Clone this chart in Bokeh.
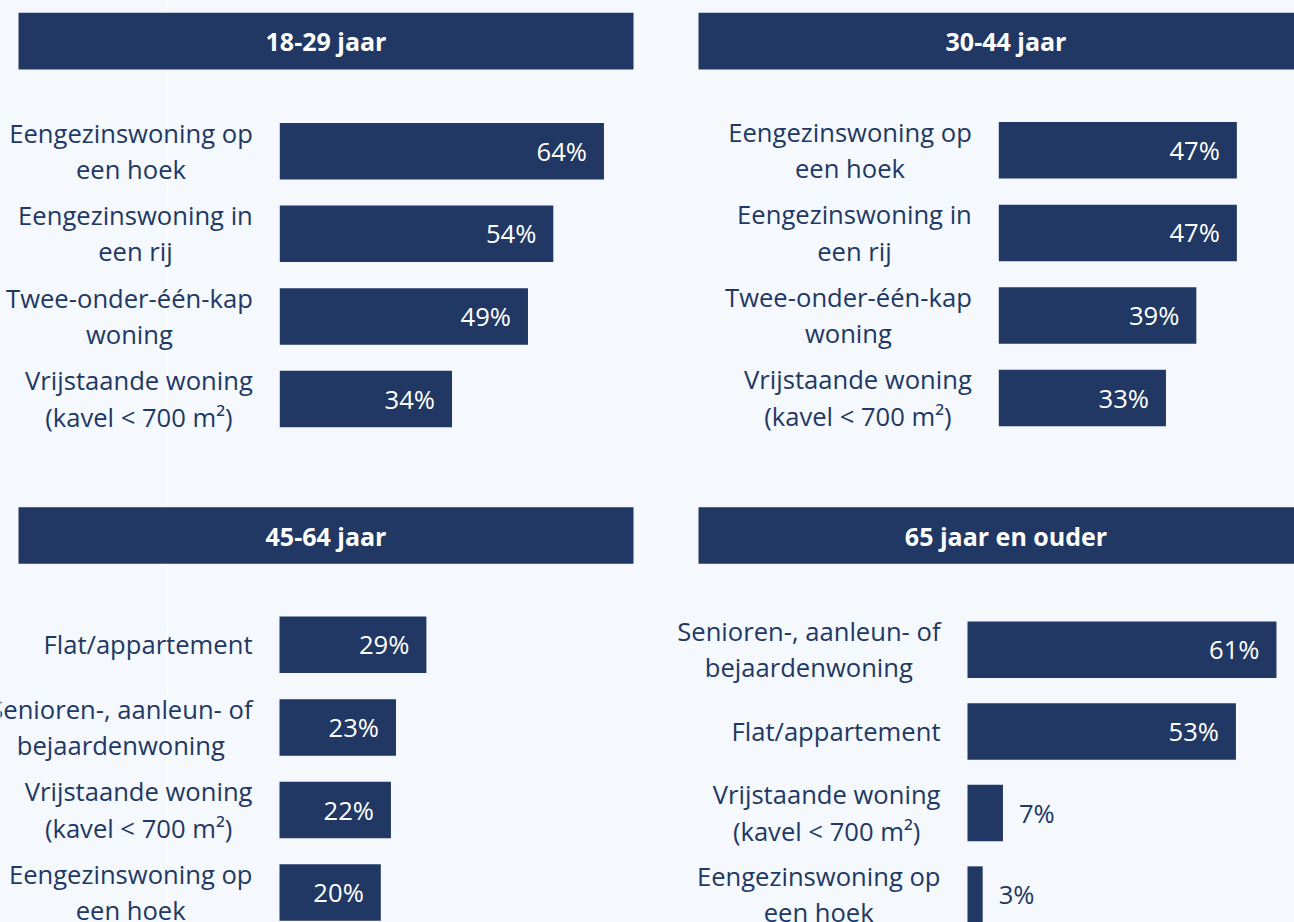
from bokeh.plotting import figure
from bokeh.models import Range1d, BoxAnnotation, Label, ColumnDataSource, GlobalInlineStyleSheet, Span
from bokeh.layouts import column, row
from bokeh.embed import file_html
from bokeh.resources import INLINE
from bokeh.core.properties import value

# ---------------- data ----------------
titles = ["18-29 jaar", "30-44 jaar", "45-64 jaar", "65 jaar en ouder"]

cats_18_29 = ["Eengezinswoning op\neen hoek", "Eengezinswoning in\neen rij",
              "Twee-onder-één-kap\nwoning", "Vrijstaande woning\n(kavel < 700 m²)"]
vals_18_29 = [64, 54, 49, 34]

cats_30_44 = ["Eengezinswoning op\neen hoek", "Eengezinswoning in\neen rij",
              "Twee-onder-één-kap\nwoning", "Vrijstaande woning\n(kavel < 700 m²)"]
vals_30_44 = [47, 47, 39, 33]

cats_45_64 = ["Flat/appartement", "Senioren-, aanleun- of\nbejaardenwoning",
              "Vrijstaande woning\n(kavel < 700 m²)", "Eengezinswoning op\neen hoek"]
vals_45_64 = [29, 23, 22, 20]

cats_65 = ["Senioren-, aanleun- of\nbejaardenwoning", "Flat/appartement",
           "Vrijstaande woning\n(kavel < 700 m²)", "Eengezinswoning op\neen hoek"]
vals_65 = [61, 53, 7, 3]

# ---------------- style / layout ----------------
BG = "#f5f8fc"
NAVY = "#213864"
FONT = "Open Sans"
FS = "25.6px"
K = 5.065  # px per percent

# page-pixel layout of each panel (layout only)
panels = [
    dict(title=titles[0], cats=cats_18_29, vals=vals_18_29, left=0, right=645, top=0, bottom=460,
         x0=279.3, y_first=150.7, step=82.6, hdr=(18, 633, 12.3, 69), seam=166.7),
    dict(title=titles[1], cats=cats_30_44, vals=vals_30_44, left=645, right=1294, top=0, bottom=460,
         x0=998.3, y_first=149.8, step=82.6, hdr=(698, 1313, 12.3, 69), seam=None),
    dict(title=titles[2], cats=cats_45_64, vals=vals_45_64, left=0, right=645, top=460, bottom=922,
         x0=279.0, y_first=644.3, step=82.6, hdr=(18, 633, 506.7, 563.3), seam=166.7),
    dict(title=titles[3], cats=cats_65, vals=vals_65, left=645, right=1294, top=460, bottom=922,
         x0=967.0, y_first=649.3, step=81.6, hdr=(698, 1313, 506.7, 563.3), seam=None),
]


def make_panel(d):
    x0 = d["x0"]
    xr = Range1d((d["left"] - x0) / K, (d["right"] - x0) / K)
    yr = Range1d(d["bottom"], d["top"])
    p = figure(width=d["right"] - d["left"], height=d["bottom"] - d["top"],
               x_range=xr, y_range=yr, output_backend="svg", toolbar_location=None,
               x_axis_location=None, y_axis_location=None, min_border=0,
               background_fill_color=BG, border_fill_color=BG, outline_line_color=None)
    p.grid.visible = False

    if d["seam"] is not None:
        p.add_layout(Span(location=(d["seam"] - x0) / K, dimension="height",
                          line_color="#fcfdff", line_width=1.5, level="underlay"))

    # header band
    hl, hr, ht, hb = d["hdr"]
    p.add_layout(BoxAnnotation(left=(hl - x0) / K, right=(hr - x0) / K, top=ht, bottom=hb,
                               fill_color=NAVY, fill_alpha=1.0, line_color=None))
    p.add_layout(Label(x=((hl + hr) / 2 - x0) / K, y=(ht + hb) / 2, text=d["title"],
                       text_align="center", text_baseline="middle", text_color="white",
                       text_font=FONT, text_font_size="25px", text_font_style="bold"))

    ys = [d["y_first"] + i * d["step"] for i in range(len(d["vals"]))]
    src = ColumnDataSource(dict(y=ys, v=d["vals"], cat=d["cats"]))
    p.hbar(y="y", left=0, right="v", height=56.5, source=src,
           fill_color=NAVY, line_color=None)

    # category labels (block right-anchored, lines centred)
    p.text(x=0, y="y", text="cat", source=src, x_offset=-27,
           anchor="center_right", text_align="center", text_baseline="middle",
           text_color=NAVY, text_font=value(FONT), text_font_size=FS,
           text_line_height=1.04)

    # value labels
    inside = [i for i, v in enumerate(d["vals"]) if v >= 10]
    outside = [i for i, v in enumerate(d["vals"]) if v < 10]
    if inside:
        s_in = ColumnDataSource(dict(y=[ys[i] for i in inside], v=[d["vals"][i] for i in inside],
                                     lbl=[f"{d['vals'][i]}%" for i in inside]))
        p.text(x="v", y="y", text="lbl", source=s_in, x_offset=-17,
               text_align="right", text_baseline="middle", text_color="white",
               text_font=value(FONT), text_font_size=FS)
    if outside:
        s_out = ColumnDataSource(dict(y=[ys[i] for i in outside], v=[d["vals"][i] for i in outside],
                                      lbl=[f"{d['vals'][i]}%" for i in outside]))
        p.text(x="v", y="y", text="lbl", source=s_out, x_offset=16,
               text_align="left", text_baseline="middle", text_color=NAVY,
               text_font=value(FONT), text_font_size=FS)
    return p


figs = [make_panel(d) for d in panels]
p = column(row(figs[0], figs[1], spacing=0), row(figs[2], figs[3], spacing=0), spacing=0)
p.stylesheets = [GlobalInlineStyleSheet(css=f"body {{ background-color: {BG}; }}")]

open("out.html", "w").write(file_html(p, INLINE))
